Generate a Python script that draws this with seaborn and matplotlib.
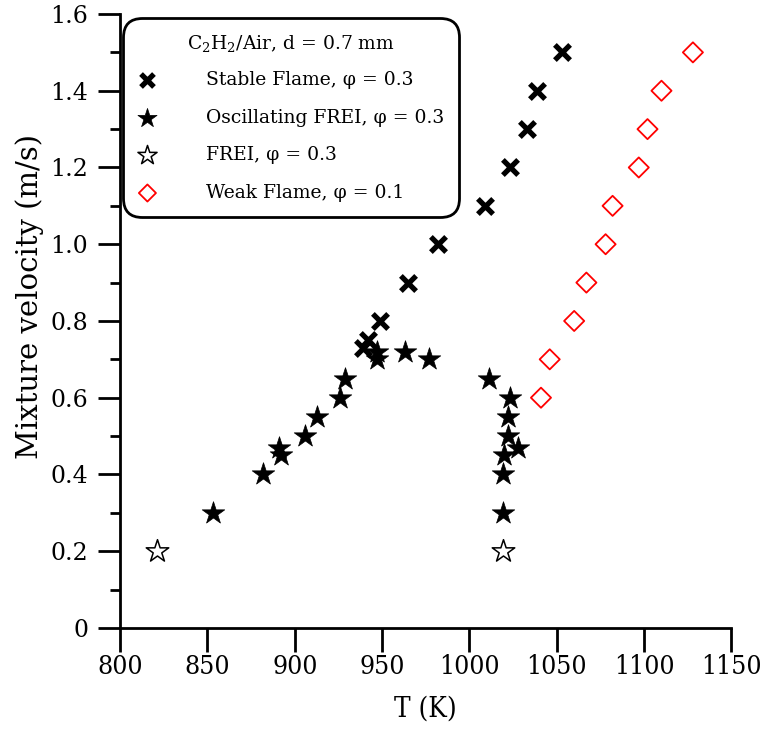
import matplotlib
matplotlib.use("Agg")
import matplotlib.pyplot as plt
import seaborn as sns
import numpy as np
from matplotlib.ticker import MultipleLocator

# ---- data ----
stable_T = [939, 942, 949, 965, 982, 1009, 1023, 1033, 1039, 1053]
stable_v = [0.73, 0.75, 0.80, 0.90, 1.00, 1.10, 1.20, 1.30, 1.40, 1.50]

osc_T = [853, 882, 891, 892, 906, 913, 926, 929, 947, 947, 963, 977,
         1011, 1023, 1022, 1022, 1028, 1020, 1019, 1019]
osc_v = [0.30, 0.40, 0.47, 0.45, 0.50, 0.55, 0.60, 0.65, 0.72, 0.70, 0.72, 0.70,
         0.65, 0.60, 0.55, 0.50, 0.47, 0.45, 0.40, 0.30]

frei_T = [821, 1019]
frei_v = [0.20, 0.20]

weak_T = [1041, 1046, 1060, 1067, 1078, 1082, 1097, 1102, 1110, 1128]
weak_v = [0.60, 0.70, 0.80, 0.90, 1.00, 1.10, 1.20, 1.30, 1.40, 1.50]

labels = ["Stable Flame, \u03c6 = 0.3", "Oscillating FREI, \u03c6 = 0.3",
          "FREI, \u03c6 = 0.3", "Weak Flame, \u03c6 = 0.1"]
legend_title = r"C$_2$H$_2$/Air, d = 0.7 mm"
x_ticks = [800, 850, 900, 950, 1000, 1050, 1100, 1150]
y_ticks = [0, 0.2, 0.4, 0.6, 0.8, 1.0, 1.2, 1.4, 1.6]
y_ticklabels = ["0", "0.2", "0.4", "0.6", "0.8", "1.0", "1.2", "1.4", "1.6"]

sns.set_theme(style="ticks")
plt.rcParams["font.family"] = ["DejaVu Serif"]
plt.rcParams["mathtext.fontset"] = "dejavuserif"
plt.rcParams["text.color"] = "black"
plt.rcParams["axes.labelcolor"] = "black"
plt.rcParams["xtick.color"] = "black"
plt.rcParams["ytick.color"] = "black"
plt.rcParams["xtick.labelcolor"] = "black"
plt.rcParams["ytick.labelcolor"] = "black"

fig = plt.figure(figsize=(7.65, 7.37), dpi=100)
ax = fig.add_axes([0.157, 0.148, 0.799, 0.833])

sns.scatterplot(x=stable_T, y=stable_v, marker="x", s=120, color="black",
                linewidth=3.8, ax=ax, label=labels[0], zorder=3)
sns.scatterplot(x=osc_T, y=osc_v, marker="*", s=290, color="black",
                edgecolor="black", linewidth=0.5, ax=ax, label=labels[1], zorder=3)
sns.scatterplot(x=frei_T, y=frei_v, marker="*", s=290, facecolor="white",
                edgecolor="black", linewidth=1.1, ax=ax, label=labels[2], zorder=3)
sns.scatterplot(x=weak_T, y=weak_v, marker="D", s=105, facecolor="none",
                edgecolor="red", linewidth=1.3, ax=ax, label=labels[3], zorder=3)

ax.set_xlim(800, 1150)
ax.set_ylim(0, 1.6)
ax.set_xticks(x_ticks)
ax.set_yticks(y_ticks)
ax.set_yticklabels(y_ticklabels)
ax.yaxis.set_minor_locator(MultipleLocator(0.1))

for s in ["top", "right"]:
    ax.spines[s].set_visible(False)
for s in ["left", "bottom"]:
    ax.spines[s].set_linewidth(2.0)
    ax.spines[s].set_color("black")

ax.tick_params(axis="x", which="major", direction="out", length=17, width=2.0,
               color="black", labelcolor="black", pad=2, labelsize=19)
ax.tick_params(axis="y", which="major", direction="out", length=16, width=2.0,
               color="black", labelcolor="black", pad=7, labelsize=17)
ax.tick_params(axis="y", which="minor", direction="out", length=7, width=2.0,
               color="black")
for t in ax.get_xticklabels():
    t.set_fontstretch("condensed")

ax.set_xlabel("T (K)", fontsize=20, labelpad=12, fontstretch="condensed", color="black")
ax.set_ylabel("Mixture velocity (m/s)", fontsize=21, labelpad=4, color="black")
ax.yaxis.set_label_coords(-0.125, 0.54)

leg = ax.legend(loc="upper left", bbox_to_anchor=(0.014, 0.984), borderaxespad=0,
                title=legend_title, title_fontsize=13.5, fontsize=13.5,
                frameon=True, fancybox=True, edgecolor="black",
                handletextpad=2.6, labelspacing=1.05, borderpad=0.5,
                handlelength=1.0, markerscale=0.85, labelcolor="black")
leg.get_title().set_color("black")
leg.get_frame().set_linewidth(2.0)
leg.get_frame().set_alpha(1)
leg.get_frame().set_boxstyle("round", pad=0.3, rounding_size=1.0)
leg._legend_box.sep = 12
# keep top padding matching reference
leg._legend_box.align = "center"

fig.savefig("out.png", dpi=100)
